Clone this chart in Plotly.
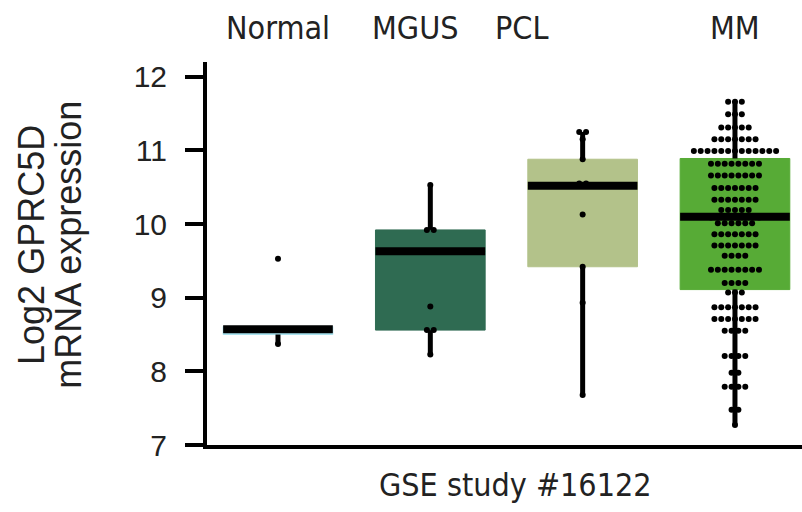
import numpy as np
import plotly.graph_objects as go

groups = ["Normal", "MGUS", "PCL", "MM"]
q1 = [8.50, 8.56, 9.42, 9.11]
median = [8.57, 9.63, 10.52, 10.10]
q3 = [8.61, 9.92, 10.88, 10.89]
lower = [8.37, 8.23, 7.68, 7.27]
upper = [8.61, 10.53, 11.25, 11.67]
colors = ["#a9e3ef", "#2f6b52", "#b3c28a", "#57ab36"]

normal_vals = [9.53, 8.57, 8.37]
mgus_vals = [10.53, 9.92, 9.92, 9.63, 9.63, 8.88, 8.56, 8.56, 8.23]
pcl_vals = [11.25, 11.25, 11.15, 10.88, 10.55, 10.55, 10.13, 9.42, 8.93, 7.68]
mm_levels = [11.66, 11.49, 11.31, 11.15, 10.99, 10.82, 10.66, 10.49, 10.33, 10.19,
             10.09, 10.01, 9.86, 9.71, 9.57, 9.38, 9.20, 9.07, 8.87, 8.71,
             8.55, 8.21, 7.98, 7.79, 7.48, 7.27]
mm_counts = [3, 3, 5, 7, 13, 8, 8, 7, 7, 5,
             8, 6, 7, 7, 4, 8, 4, 3, 7, 7,
             4, 4, 2, 4, 2, 1]
mm_vals = list(np.repeat(mm_levels, mm_counts))

label_pos = [0.0, 0.9, 1.6, 3.0]

all_vals = [normal_vals, mgus_vals, pcl_vals, mm_vals]
BOXW = 0.72
DX = 0.045

fig = go.Figure()

for i, g in enumerate(groups):
    fig.add_trace(go.Box(
        x=[i], q1=[q1[i]], median=[median[i]], q3=[q3[i]],
        lowerfence=[q1[i]], upperfence=[q3[i]],
        width=BOXW, fillcolor=colors[i],
        line=dict(color=colors[i], width=1),
        whiskerwidth=0, boxpoints=False, showlegend=False, hoverinfo="skip"))
    fig.add_trace(go.Scatter(
        x=[i, i, None, i, i], y=[lower[i], q1[i], None, q3[i], upper[i]],
        mode="lines", line=dict(color="black", width=5),
        showlegend=False, hoverinfo="skip"))

px, py = [], []
for i, vals in enumerate(all_vals):
    uniq = {}
    for v in vals:
        key = round(float(v), 3)
        uniq[key] = uniq.get(key, 0) + 1
    for v, n in uniq.items():
        for k in range(n):
            px.append(i + (k - (n - 1) / 2) * DX)
            py.append(v)
fig.add_trace(go.Scatter(x=px, y=py, mode="markers",
                         marker=dict(color="black", size=6, symbol="circle"),
                         showlegend=False, hoverinfo="skip"))

for i in range(len(groups)):
    fig.add_trace(go.Scatter(
        x=[i - BOXW / 2, i + BOXW / 2], y=[median[i], median[i]],
        mode="lines", line=dict(color="black", width=8),
        showlegend=False, hoverinfo="skip"))

narrow = "Liberation Sans Narrow, DejaVu Sans Condensed, Lato, sans-serif"
wide = "Liberation Sans, Arial, sans-serif"
txt = "#222"

for i, g in enumerate(groups):
    fig.add_annotation(x=label_pos[i], xref="x", y=1.089, yref="paper",
                       text=g, showarrow=False, yanchor="middle",
                       font=dict(size=32, color=txt, family=narrow))

fig.add_annotation(x=-0.296, xref="paper", y=0.522, yref="paper",
                   text="Log2 GPRC5D", textangle=-90,
                   showarrow=False, xanchor="center", yanchor="middle",
                   font=dict(size=36, color=txt, family=wide))
fig.add_annotation(x=-0.234, xref="paper", y=0.522, yref="paper",
                   text="mRNA expression", textangle=-90,
                   showarrow=False, xanchor="center", yanchor="middle",
                   font=dict(size=36, color=txt, family=wide))
fig.add_annotation(x=0.518, xref="paper", y=-0.105, yref="paper",
                   text="GSE study #16122", showarrow=False,
                   xanchor="center", yanchor="middle",
                   font=dict(size=32, color=txt, family=narrow))

fig.update_layout(
    width=802, height=512,
    margin=dict(l=207, r=0, t=62, b=67),
    plot_bgcolor="white", paper_bgcolor="white",
    font=dict(family=wide, color=txt),
    xaxis=dict(range=[-0.466, 3.44], showticklabels=False, ticks="",
               showgrid=False, zeroline=False, showline=True,
               linecolor="black", linewidth=4),
    yaxis=dict(range=[7, 12.2], tickvals=[7, 8, 9, 10, 11, 12],
               ticks="outside", ticklen=18, tickwidth=4, tickcolor="black",
               ticklabelstandoff=12,
               showgrid=False, zeroline=False, showline=True,
               linecolor="black", linewidth=4,
               tickfont=dict(size=30, color=txt, family=wide)),
)

fig.write_html("out.html")
